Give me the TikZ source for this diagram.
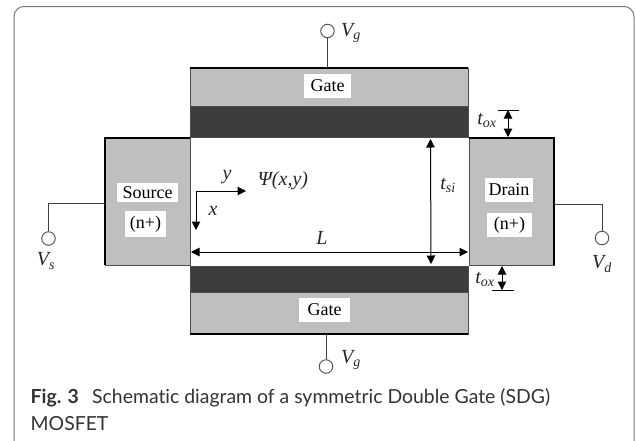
\documentclass[tikz,border=0pt]{standalone}
\usepackage{fontspec}
\setmainfont{Liberation Serif}
\newfontfamily\capfont[Ligatures=NoCommon]{Lato}
\usepackage{xcolor}
\usetikzlibrary{arrows.meta}
\definecolor{gatefill}{HTML}{BFBFBF}
\definecolor{oxfill}{HTML}{3C3C3C}
\definecolor{framecol}{HTML}{777777}
\definecolor{capcol}{HTML}{333333}
\tikzstyle{region} = [rectangle, draw=black!70, line width=0.7pt, inner sep=0pt, outer sep=0pt]
\tikzstyle{gate} = [region, fill=gatefill, minimum width=278pt, minimum height=38pt]
\tikzstyle{oxide} = [region, fill=oxfill, minimum width=278pt]
\tikzstyle{contact} = [region, fill=gatefill, minimum width=85pt, minimum height=127pt]
\tikzstyle{tag} = [fill=white, inner sep=0pt, font=\fontsize{18}{18}\selectfont, align=center]
\tikzstyle{term} = [circle, draw=black!65, line width=1pt, fill=white, minimum size=13.5pt, inner sep=0pt]
\tikzstyle{sym} = [inner sep=0pt, text=black!85, font=\fontsize{20}{20}\selectfont\itshape]
\tikzstyle{wire} = [line width=0.9pt, draw=black!75]
\tikzstyle{heavy} = [line width=2.4pt, line cap=square]
\tikzstyle{arrow} = [line width=1pt, -{Triangle[length=8.5pt,width=8.5pt]}]
\tikzstyle{dim} = [line width=1pt, {Triangle[length=8.5pt,width=8.5pt]}-{Triangle[length=8.5pt,width=8.5pt]}]
\tikzstyle{bar} = [line width=1pt]
\tikzstyle{captext} = [anchor=base west, inner sep=0pt, text=capcol, font=\capfont\fontsize{19.4}{19.4}\selectfont]
\newcommand{\sub}[2]{#1\textsubscript{#2}}
\begin{document}
\begin{tikzpicture}[x=1pt, y=-1pt]
  \useasboundingbox (0,0) rectangle (635,440);
  \draw [framecol, line width=1pt, rounded corners=10pt] (14,460) -- (14,6.5) -- (634,6.5) -- (634,460);
  % device
  \node [gate] (gatetop) at (329,87) {};
  \node [oxide, minimum height=31pt] (oxtop) at (329,121.5) {};
  \node [oxide, minimum height=26pt] (oxbot) at (329,279) {};
  \node [gate, minimum height=42pt] (gatebot) at (329,313) {};
  \node [contact] (source) at (147.5,201.5) {};
  \node [contact] (drain) at (511.5,201.5) {};
  \draw [heavy] (gatetop.north west) -- (gatetop.north east);
  \draw [heavy] (gatebot.south west) -- (gatebot.south east);
  \draw [heavy] (source.north east) -- (source.north west) -- (source.south west);
  \draw [heavy] (drain.north west) -- (drain.north east) -- (drain.south east);
  % labels on the regions
  \node [tag, minimum width=47pt, minimum height=24pt] at (327.5,86) {Gate};
  \node [tag, minimum width=51pt, minimum height=24pt] at (324.5,310) {Gate};
  \node [tag, minimum width=61pt, minimum height=19pt] at (147.5,192.5) {Source};
  \node [tag, minimum width=41pt, minimum height=26pt] at (145.5,224) {(n+)};
  \node [tag, minimum width=48pt, minimum height=24pt] at (509,190) {Drain};
  \node [tag, minimum width=45pt, minimum height=24pt] at (509.5,225) {(n+)};
  % terminals
  \node [term] (vgtop) at (327.5,31) {};
  \node [term] (vgbot) at (326,366.5) {};
  \node [term] (vs) at (48.5,238.5) {};
  \node [term] (vd) at (602,238) {};
  \coordinate (vgtopin) at (327.5,68);
  \coordinate (vgbotin) at (326,335);
  \coordinate (vsin) at (105,203);
  \coordinate (vdin) at (554,204);
  \draw [wire] (vgtop) -- (vgtopin);
  \draw [wire] (vgbot) -- (vgbotin);
  \draw [wire] (vs) |- (vsin);
  \draw [wire] (vd) |- (vdin);
  \node [sym] at (351,33) {\sub{V}{g}};
  \node [sym] at (351,360) {\sub{V}{g}};
  \node [sym] at (46,261) {\sub{V}{s}};
  \node [sym] at (602,264) {\sub{V}{d}};
  % axes
  \coordinate (origin) at (196,191);
  \coordinate (yend) at (246,191);
  \coordinate (xend) at (196,230);
  \draw [arrow] (origin) -- (yend);
  \draw [arrow] (origin) -- (xend);
  \node [sym] at (227,177) {y};
  \node [sym] at (213,211) {x};
  \node [sym] at (283,181) {Ψ(x,y)};
  % dimensions
  \coordinate (lleft) at (191,252);
  \coordinate (lright) at (468,252);
  \coordinate (tsitop) at (430.5,139);
  \coordinate (tsibot) at (431,264);
  \draw [dim] (lleft) -- (lright);
  \draw [dim] (tsitop) -- (tsibot);
  \node [sym] at (322,238) {L};
  \node [sym] at (448,185) {\sub{t}{si}};
  \coordinate (toxa) at (508,110);
  \coordinate (toxb) at (508,137);
  \coordinate (toxc) at (502,266);
  \coordinate (toxd) at (502,290);
  \draw [dim] (toxa) -- (toxb);
  \draw [dim] (toxc) -- (toxd);
  \draw [bar] (498,110) -- (519,110);
  \draw [bar] (497,137) -- (514,137);
  \draw [bar] (492,290) -- (514,290);
  \node [sym] at (487,120) {\sub{t}{ox}};
  \node [sym] at (485,279) {\sub{t}{ox}};
  % caption
  \node [captext] (figno) at (30.5,403) {\bfseries Fig. 3};
  \node [captext] (captxt) at (92,403) {Schematic diagram of a symmetric Double Gate (SDG)};
  \node [captext] (captwo) at (30.5,430) {MOSFET};
\end{tikzpicture}
\end{document}
